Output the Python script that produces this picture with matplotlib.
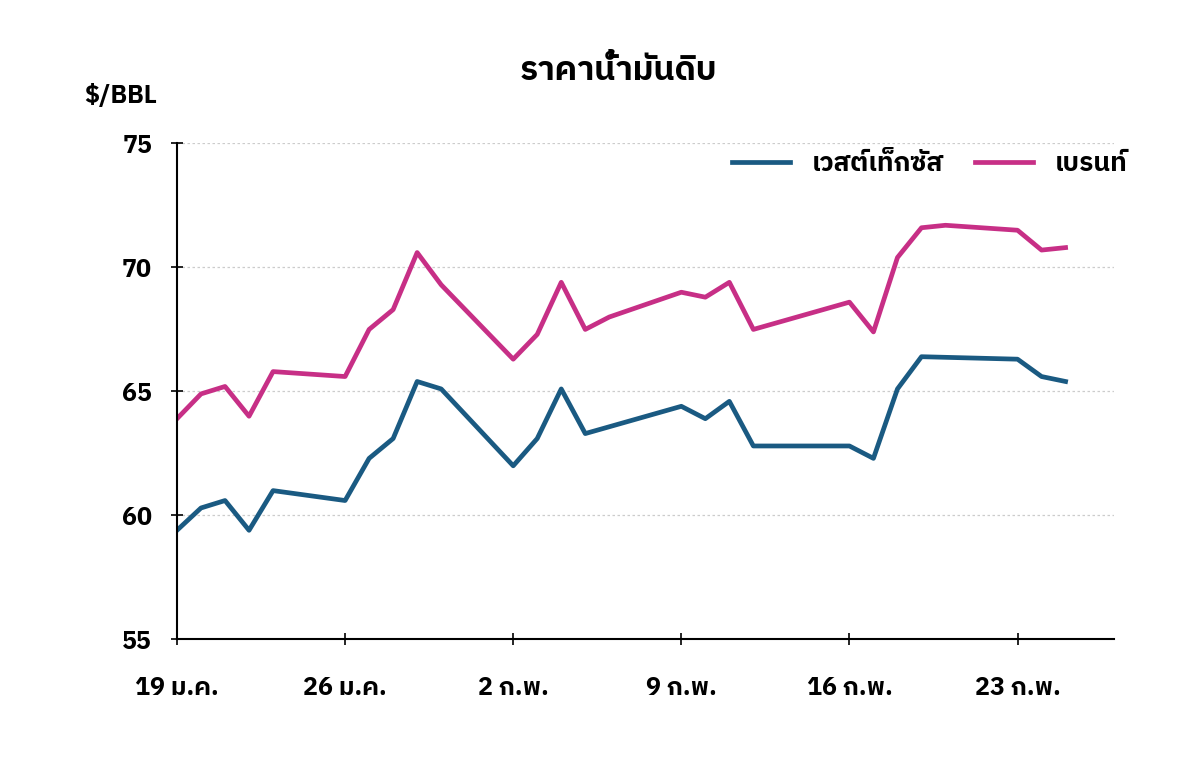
import matplotlib
matplotlib.use('Agg')
import matplotlib.pyplot as plt
from matplotlib import font_manager as fm

# ค้นหาฟอนต์ที่มีอักษรไทย
thai = []
for f in fm.fontManager.ttflist:
    if any(k in f.name for k in ['Thai', 'Loma', 'Garuda', 'Tlwg', 'Kinnari', 'Norasi', 'Sarabun', 'Waree', 'Umpush', 'Purisa', 'Sawasdee']):
        thai.append(f.name)
thai = sorted(set(thai))
plt.rcParams['font.family'] = thai + ['DejaVu Sans']

# ข้อมูล (วันนับจาก 19 ม.ค.)
wti_days = [0, 1, 2, 3, 4, 7, 8, 9, 10, 11, 14, 15, 16, 17, 21, 22, 23, 24, 28, 29, 30, 31, 35, 36, 37]
wti = [59.4, 60.3, 60.6, 59.4, 61.0, 60.6, 62.3, 63.1, 65.4, 65.1, 62.0, 63.1, 65.1, 63.3,
       64.4, 63.9, 64.6, 62.8, 62.8, 62.3, 65.1, 66.4, 66.3, 65.6, 65.4]
brent_days = [0, 1, 2, 3, 4, 7, 8, 9, 10, 11, 14, 15, 16, 17, 18, 21, 22, 23, 24, 28, 29, 30, 31, 32, 35, 36, 37]
brent = [63.9, 64.9, 65.2, 64.0, 65.8, 65.6, 67.5, 68.3, 70.6, 69.3, 66.3, 67.3, 69.4, 67.5, 68.0,
         69.0, 68.8, 69.4, 67.5, 68.6, 67.4, 70.4, 71.6, 71.7, 71.5, 70.7, 70.8]
tick_days = [0, 7, 14, 21, 28, 35]
tick_labels = ['19 ม.ค.', '26 ม.ค.', '2 ก.พ.', '9 ก.พ.', '16 ก.พ.', '23 ก.พ.']

fig, ax = plt.subplots(figsize=(12, 7.63), dpi=100)
fig.subplots_adjust(left=0.1475, right=0.928, top=0.812, bottom=0.162)

ax.plot(wti_days, wti, color='#1a5a82', linewidth=3.4, label='เวสต์เท็กซัส')
ax.plot(brent_days, brent, color='#c72f86', linewidth=3.4, label='เบรนท์')

ax.set_xlim(0, 39.0)
ax.set_ylim(55, 75)
ax.set_yticks([55, 60, 65, 70, 75])
ax.set_xticks(tick_days)
ax.set_xticklabels(tick_labels)
ax.tick_params(axis='x', length=8, width=1.2, direction='inout', pad=22, labelsize=18)
ax.tick_params(axis='y', length=8, width=1.2, direction='inout', pad=14, labelsize=18)
for lab in ax.get_xticklabels() + ax.get_yticklabels():
    lab.set_fontweight('bold')
ax.grid(axis='y', color='#cccccc', linestyle=(0, (2, 2)), linewidth=0.9)
for s in ['top', 'right']:
    ax.spines[s].set_visible(False)
ax.spines['left'].set_linewidth(1.5)
ax.spines['bottom'].set_linewidth(1.5)

ax.legend(loc='upper right', ncol=2, frameon=False, handlelength=2.2,
          columnspacing=1.2, bbox_to_anchor=(1.04, 1.03), prop={'weight': 'bold', 'size': 19})
fig.text(0.07, 0.865, '$/BBL', fontsize=18, fontweight='bold')
fig.text(0.515, 0.895, 'ราคาน้ำมันดิบ', fontsize=24, fontweight='bold', ha='center')

plt.savefig('out.png', dpi=100)
